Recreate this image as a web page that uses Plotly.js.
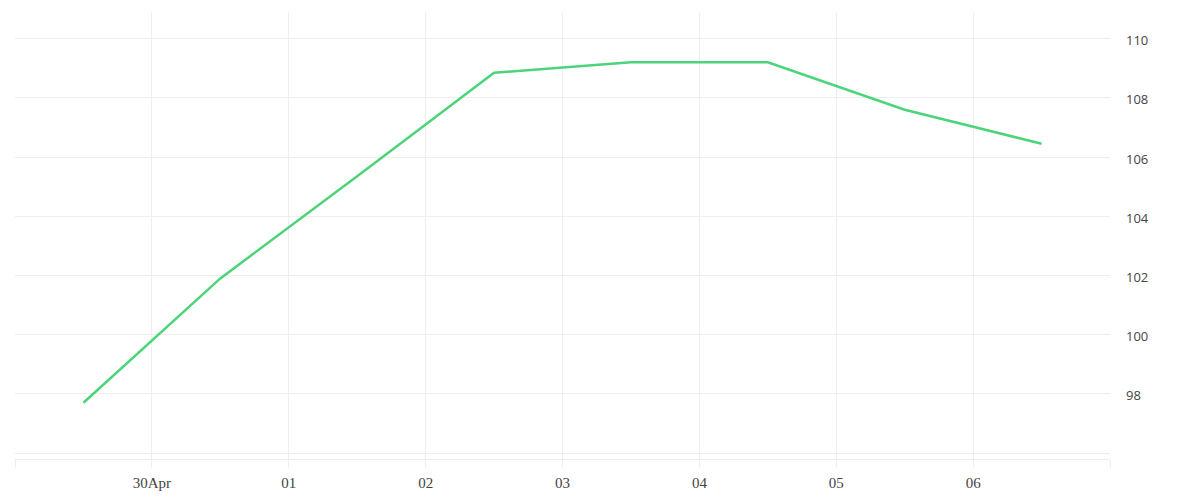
<!DOCTYPE html>
<html>
<head>
<meta charset="utf-8">
<script src="https://cdn.plot.ly/plotly-3.0.1.min.js"></script>
<style>html,body{margin:0;padding:0;background:#fff;}#chart{width:1200px;height:500px;}</style>
</head>
<body>
<div id="chart"></div>
<script>
var dates = ["2020-04-29 12:00","2020-04-30 12:00","2020-05-01 12:00","2020-05-02 12:00","2020-05-03 12:00","2020-05-04 12:00","2020-05-05 12:00","2020-05-06 12:00"];
var values = [97.7, 101.9, 105.35, 108.85, 109.2, 109.2, 107.6, 106.45];
var xTickVals = ["2020-04-29","2020-04-30","2020-05-01","2020-05-02","2020-05-03","2020-05-04","2020-05-05","2020-05-06","2020-05-07"];
var xTickText = ["","30Apr","01","02","03","04","05","06",""];
var yTickVals = [96, 98, 100, 102, 104, 106, 108, 110];
var yTickText = ["", "98", "100", "102", "104", "106", "108", "110"];

var trace = {
  x: dates, y: values, type: "scatter", mode: "lines",
  line: {color: "#4cd47a", width: 2.5},
  hoverinfo: "x+y"
};
var grid = "#eeeeee";
var layout = {
  width: 1200, height: 500,
  margin: {l: 15, r: 90, t: 12, b: 41, pad: 0},
  paper_bgcolor: "#ffffff", plot_bgcolor: "#ffffff",
  showlegend: false,
  xaxis: {
    type: "date",
    range: ["2020-04-29", "2020-05-07"],
    tickmode: "array", tickvals: xTickVals, ticktext: xTickText,
    showgrid: true, gridcolor: grid, gridwidth: 1,
    ticks: "outside", ticklen: 8, tickcolor: grid, tickwidth: 1,
    showline: true, linecolor: grid, linewidth: 1,
    zeroline: false,
    ticklabelstandoff: 2,
    tickfont: {family: "Liberation Serif", size: 15, color: "#444"}
  },
  yaxis: {
    side: "right",
    range: [95.8, 110.9],
    tickmode: "array", tickvals: yTickVals, ticktext: yTickText,
    showgrid: true, gridcolor: grid, gridwidth: 1,
    ticks: "", showline: false, zeroline: false,
    ticklabelstandoff: 15,
    ticklabelshift: 2,
    tickfont: {family: "Open Sans", size: 13, color: "#444"}
  }
};
Plotly.newPlot("chart", [trace], layout, {displayModeBar: false, staticPlot: true});
</script>
</body>
</html>
